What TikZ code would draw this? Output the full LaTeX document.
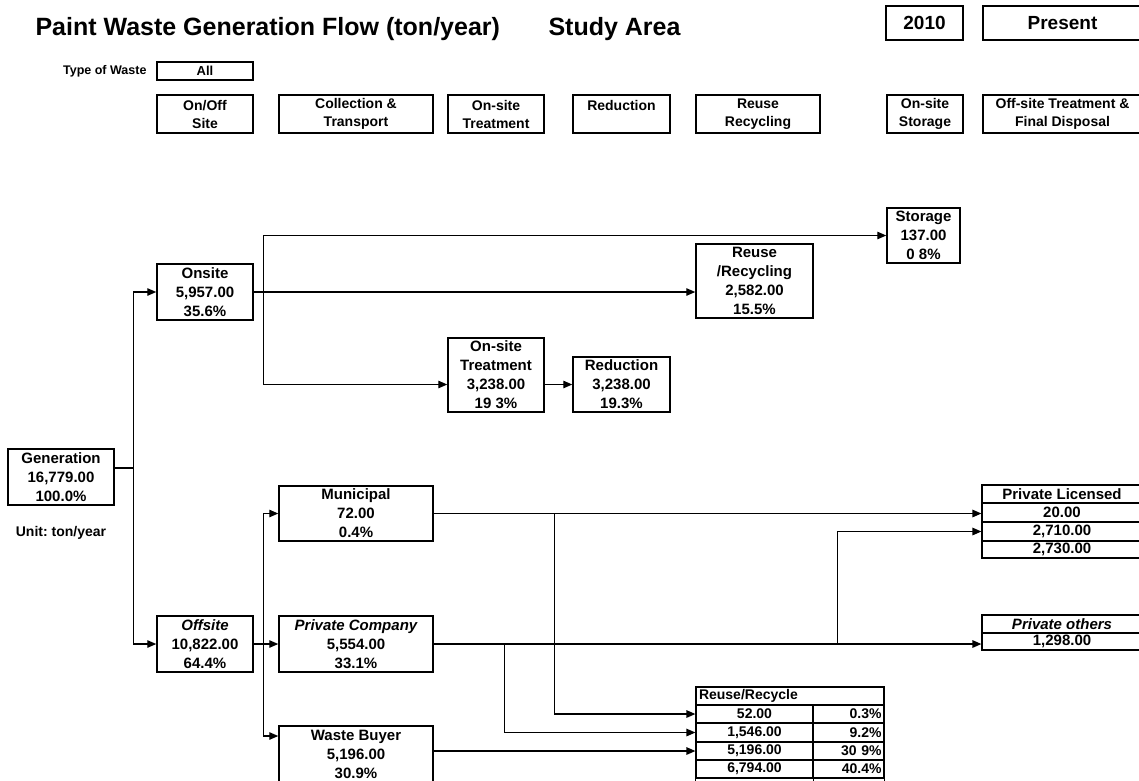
\documentclass[tikz,border=0pt]{standalone}
\usepackage{fontspec}
\setmainfont{Liberation Sans}
\usetikzlibrary{arrows.meta, calc}
\frenchspacing

\newcommand{\boxfnt}{\fontsize{15}{19}\selectfont\bfseries}
\newcommand{\hdrfnt}{\fontsize{14}{18}\selectfont\bfseries}
\newcommand{\tabfnt}{\fontsize{14}{16}\selectfont\bfseries}

\begin{document}
\begin{tikzpicture}[
  x=1pt, y=-1pt,
  >={Triangle[length=9pt, width=7.5pt]},
  every node/.style={font=\boxfnt},
  fbox/.style={draw, line width=1.5pt, inner sep=0pt, align=center},
  hbox/.style={draw, line width=1.3pt, inner sep=0pt, align=center, font=\hdrfnt, minimum height=38pt},
  cell/.style={draw, line width=1.2pt, inner sep=0pt, font=\tabfnt},
  flow/.style={->, line width=1.3pt},
]
  \useasboundingbox (0,0) rectangle (1139,780);
  \clip (0,0) rectangle (1139,780);

  % title line
  \node[anchor=base west, font=\fontsize{25}{30}\selectfont\bfseries] (title) at (32,35) {Paint Waste Generation Flow (ton/year)};
  \node[anchor=base west, font=\fontsize{25}{30}\selectfont\bfseries] (area) at (545,35) {Study Area};
  \node[hbox, minimum width=77pt, minimum height=34pt, font=\fontsize{19}{22}\selectfont\bfseries] (year) at (924.5,23) {2010};
  \node[hbox, minimum width=159pt, minimum height=34pt, font=\fontsize{19}{22}\selectfont\bfseries] (period) at (1062.5,23) {Present};

  % waste type
  \node[anchor=east, font=\fontsize{12.5}{14}\selectfont\bfseries] (wlbl) at (150,71) {Type of Waste};
  \node[hbox, minimum width=96pt, minimum height=18pt, font=\fontsize{13}{15}\selectfont\bfseries] (wall) at (205,71) {All};

  % stage headers
  \foreach \nm/\cx/\w/\txt in {hsite/205/96/{On/Off\\Site}, hcoll/356/154/{Collection \&\\Transport},
      htreat/496/96/{On-site\\Treatment}, hred/621.5/97/{Reduction\\\mbox{}}, hreuse/758/124/{Reuse\\Recycling},
      hstor/925/76/{On-site\\Storage}, hoff/1062.5/159/{Off-site Treatment \&\\Final Disposal}}
    \node[hbox, minimum width=\w pt] (\nm) at (\cx,114) {\txt};

  % generation
  \node[fbox, minimum width=106pt, minimum height=56pt] (gen) at (61,477) {Generation\\16,779.00\\100.0\%};
  \node[font=\fontsize{14}{16}\selectfont\bfseries] (unit) at (61,533) {Unit: ton/year};

  % onsite side
  \node[fbox, minimum width=96pt, minimum height=56pt] (onsite) at (205,292) {Onsite\\5,957.00\\35.6\%};
  \node[fbox, minimum width=73pt, minimum height=55pt] (storage) at (923.5,235.5) {Storage\\137.00\\0 8\%};
  \node[fbox, minimum width=117pt, minimum height=74pt] (reuse) at (754.5,281) {Reuse\\/Recycling\\2,582.00\\15.5\%};
  \node[fbox, minimum width=96pt, minimum height=74pt] (treat) at (496,375) {On-site\\Treatment\\3,238.00\\19 3\%};
  \node[fbox, minimum width=97pt, minimum height=55pt] (red) at (621.5,384.5) {Reduction\\3,238.00\\19.3\%};

  % offsite side
  \node[fbox, minimum width=96pt, minimum height=56pt] (offsite) at (205,644) {{\itshape Offsite}\\10,822.00\\64.4\%};
  \node[fbox, minimum width=154pt, minimum height=55pt] (muni) at (356,513.5) {Municipal\\72.00\\0.4\%};
  \node[fbox, minimum width=154pt, minimum height=56pt] (pcomp) at (356,644) {{\itshape Private Company}\\5,554.00\\33.1\%};
  \node[fbox, minimum width=154pt, minimum height=56pt] (buyer) at (356,754) {Waste Buyer\\5,196.00\\30.9\%};

  % final disposal
  \node[cell, font=\boxfnt, minimum width=160pt, minimum height=18pt] (plh) at (1062,494) {Private Licensed};
  \node[cell, font=\boxfnt, minimum width=160pt, minimum height=19pt] (pl1) at (1062,512.5) {20.00};
  \node[cell, font=\boxfnt, minimum width=160pt, minimum height=19pt] (pl2) at (1062,531.5) {2,710.00};
  \node[cell, font=\boxfnt, minimum width=160pt, minimum height=17pt] (pl3) at (1062,549.5) {2,730.00};
  \node[cell, font=\boxfnt\itshape, minimum width=160pt, minimum height=18pt] (poh) at (1062,624) {Private others};
  \node[cell, font=\boxfnt, minimum width=160pt, minimum height=17pt] (po1) at (1062,641.5) {1,298.00};

  % reuse/recycle table
  \node[cell, minimum width=188pt, minimum height=18pt, text width=182pt, align=left] (rrh) at (790,696) {Reuse/Recycle};
  \foreach \nm/\cy/\h/\num/\pct in {rr1/714/18/52.00/0.3\%, rr2/732.5/19/{1,546.00}/9.2\%,
      rr3/751/18/{5,196.00}/30 9\%, rr4/769/18/{6,794.00}/40.4\%} {
    \node[cell, minimum width=117pt, minimum height=\h pt] (\nm) at (754.5,\cy) {\num};
    \node[cell, minimum width=71pt, minimum height=\h pt, text width=66pt, align=right] (\nm-p) at (848.5,\cy) {\pct};
  }
  \draw[line width=1.2pt] (rr4.south west) -- ++(0,8) (rr4.south east) -- ++(0,8) (rr4-p.south east) -- ++(0,8);

  % generation split
  \draw[flow] ([yshift=9pt]gen.east) -- ++(19,0) |- (onsite.west);
  \draw[flow] ([yshift=9pt]gen.east) -- ++(19,0) |- (offsite.west);

  % onsite flows
  \draw[flow] (onsite.east) -- ++(10,0) |- (storage.west);
  \draw[flow] (onsite.east) -- (onsite.east -| reuse.west);
  \draw[flow] (onsite.east) -- ++(10,0) |- (treat.west |- red.west);
  \draw[flow] (treat.east |- red.west) -- (red.west);

  % offsite flows
  \draw[flow] (offsite.east) -- ++(10,0) |- (muni.west);
  \draw[flow] (offsite.east) -- (offsite.east -| pcomp.west);
  \draw[flow] (offsite.east) -- ++(10,0) |- ([yshift=18pt]buyer.west);
  \draw[flow] (muni.east) -- (muni.east -| pl1.west);
  \draw[flow] (muni.east) -- ++(121,0) |- (rr1.west);
  \draw[flow] (pcomp.east) -- (pcomp.east -| po1.west);
  \draw[flow] (pcomp.east) -- ++(71,0) |- (rr2.west);
  \draw[flow] (pcomp.east) -- ++(404,0) |- (pl2.west);
  \draw[flow] (buyer.east |- rr3.west) -- (rr3.west);
\end{tikzpicture}
\end{document}
